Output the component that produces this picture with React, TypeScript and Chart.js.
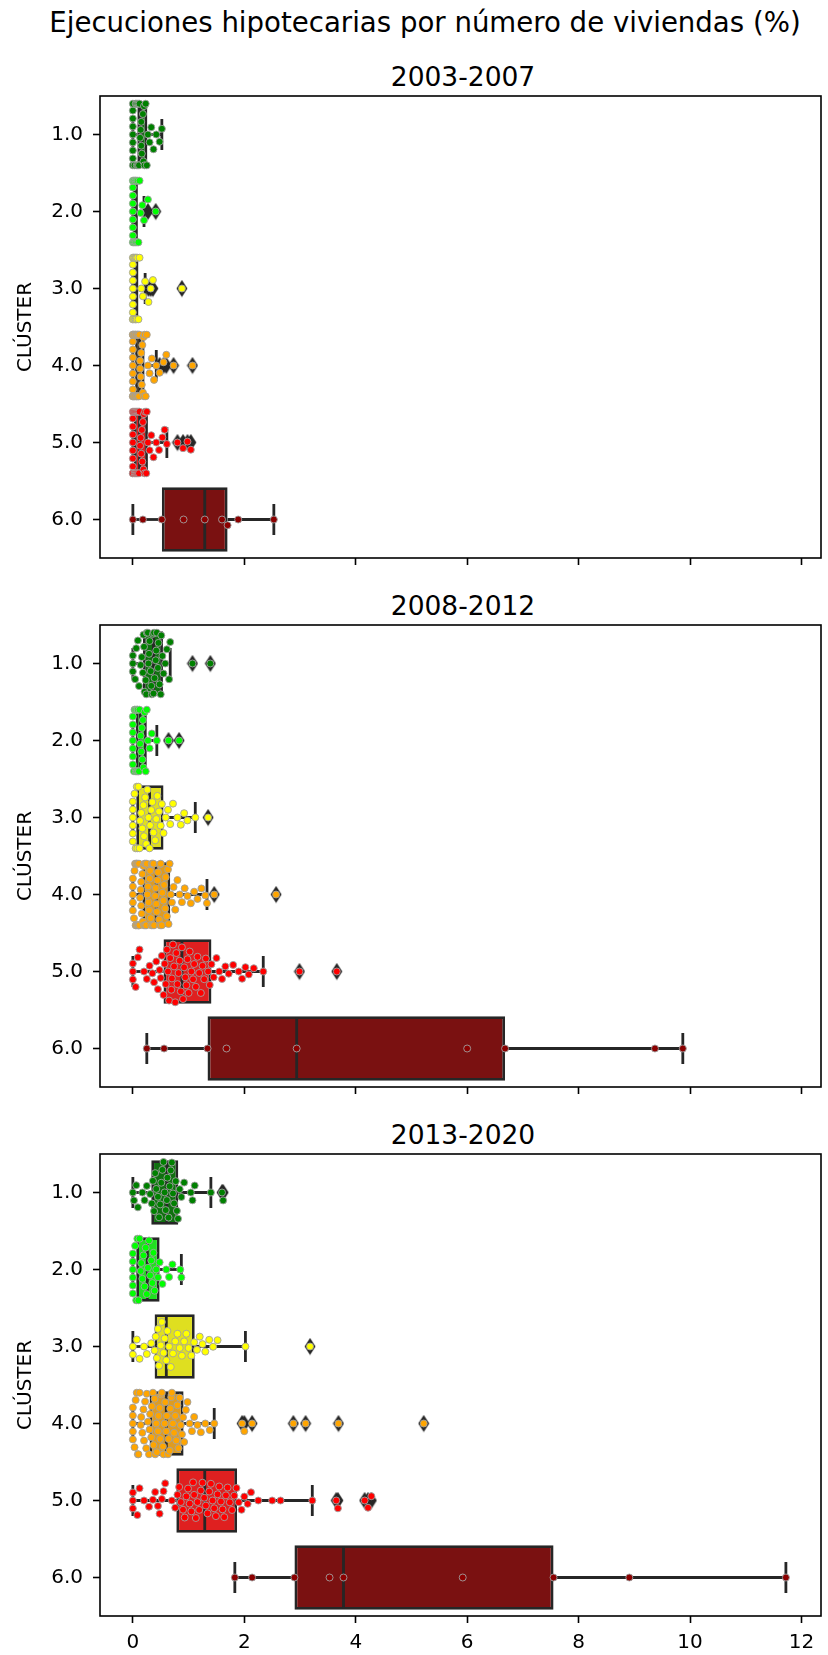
import React, { useEffect, useRef } from 'react';
import { Chart, registerables } from 'chart.js';

Chart.register(...registerables);

const FONT = "'DejaVu Sans', 'Noto Sans', sans-serif";
Chart.defaults.font.family = FONT;
Chart.defaults.color = '#000';

// ---------- text ----------
const SUPTITLE = 'Ejecuciones hipotecarias por número de viviendas (%)';
const PERIODS = ['2003-2007', '2008-2012', '2013-2020'];
const Y_LABEL = 'CLÚSTER';

// ---------- categories / ticks ----------
const CLUSTERS = [1, 2, 3, 4, 5, 6];
const CLUSTER_LABELS = ['1.0', '2.0', '3.0', '4.0', '5.0', '6.0'];
const X_TICKS = [0, 2, 4, 6, 8, 10, 12];
const X_TICK_LABELS = ['0', '2', '4', '6', '8', '10', '12'];
const X_MIN = -0.59;
const X_MAX = 12.35;
const Y_MIN = 0.5;
const Y_MAX = 6.5;

// ---------- colours ----------
const POINT_COLORS = ['#008000', '#00ff00', '#ffff00', '#ffa500', '#ff0000', '#8b0000'];
const BOX_COLORS = ['#107010', '#20df20', '#dfdf20', '#df9c20', '#df2020', '#7a1111'];
const EDGE = '#262626';
const POINT_EDGE = '#a0a0a0';

// ---------- box statistics (per period, per cluster) ----------
const Q1_2003 = [0.08, 0.0, 0.0, 0.04, 0.02, 0.52];
const MED_2003 = [0.15, 0.03, 0.04, 0.12, 0.12, 1.29];
const Q3_2003 = [0.26, 0.09, 0.1, 0.21, 0.27, 1.7];
const WLO_2003 = [0, 0, 0, 0, 0, 0];
const WHI_2003 = [0.52, 0.2, 0.22, 0.42, 0.61, 2.53];

const Q1_2008 = [0.18, 0.05, 0.06, 0.17, 0.55, 1.34];
const MED_2008 = [0.37, 0.13, 0.3, 0.42, 0.88, 2.94];
const Q3_2008 = [0.54, 0.25, 0.55, 0.67, 1.41, 6.68];
const WLO_2008 = [0, 0, 0, 0, 0, 0.25];
const WHI_2008 = [0.67, 0.43, 1.12, 1.33, 2.34, 9.87];

const Q1_2013 = [0.33, 0.06, 0.39, 0.3, 0.78, 2.9];
const MED_2013 = [0.61, 0.26, 0.6, 0.6, 1.29, 3.78];
const Q3_2013 = [0.815, 0.48, 1.11, 0.91, 1.87, 7.55];
const WLO_2013 = [0, 0, 0, 0, 0, 1.83];
const WHI_2013 = [1.4, 0.87, 2.02, 1.46, 3.22, 11.72];

// ---------- individual observations (swarm) ----------
const P2003_C1 = [0, 0, 0, 0, 0, 0, 0, 0, 0, 0.03, 0.05, 0.06, 0.07, 0.08, 0.09, 0.1, 0.11, 0.12, 0.13, 0.14, 0.15, 0.15, 0.16, 0.18, 0.19, 0.2, 0.21, 0.23, 0.25, 0.27, 0.3, 0.33, 0.37, 0.42, 0.48, 0.52];
const P2003_C2 = [0, 0, 0, 0, 0, 0, 0, 0, 0, 0.01, 0.02, 0.02, 0.03, 0.04, 0.05, 0.05, 0.06, 0.07, 0.08, 0.09, 0.1, 0.12, 0.14, 0.17, 0.2, 0.27, 0.41];
const P2003_C3 = [0, 0, 0, 0, 0, 0, 0, 0, 0, 0, 0.01, 0.02, 0.03, 0.04, 0.05, 0.05, 0.06, 0.07, 0.08, 0.1, 0.12, 0.15, 0.18, 0.22, 0.28, 0.32, 0.36, 0.88];
const P2003_C4 = [0, 0, 0, 0, 0, 0, 0, 0, 0, 0, 0, 0.01, 0.02, 0.02, 0.03, 0.04, 0.04, 0.05, 0.06, 0.06, 0.07, 0.08, 0.08, 0.09, 0.1, 0.1, 0.11, 0.12, 0.13, 0.13, 0.14, 0.15, 0.16, 0.17, 0.18, 0.19, 0.2, 0.21, 0.23, 0.25, 0.27, 0.3, 0.34, 0.38, 0.42, 0.48, 0.55, 0.6, 0.73, 1.07];
const P2003_C5 = [0, 0, 0, 0, 0, 0, 0, 0, 0, 0, 0.02, 0.03, 0.04, 0.05, 0.06, 0.07, 0.08, 0.09, 0.1, 0.11, 0.12, 0.13, 0.14, 0.15, 0.16, 0.17, 0.18, 0.19, 0.2, 0.21, 0.22, 0.24, 0.25, 0.27, 0.3, 0.33, 0.37, 0.42, 0.47, 0.53, 0.57, 0.61, 0.8, 0.9, 0.98, 1.04];
const P2003_C6 = [0, 0.18, 0.52, 0.91, 1.29, 1.6, 1.7, 1.89, 2.53];

const P2008_C1 = [0, 0, 0, 0.04, 0.06, 0.09, 0.11, 0.14, 0.16, 0.18, 0.19, 0.2, 0.21, 0.23, 0.24, 0.25, 0.27, 0.28, 0.29, 0.3, 0.32, 0.33, 0.34, 0.36, 0.37, 0.38, 0.39, 0.41, 0.42, 0.43, 0.45, 0.46, 0.48, 0.5, 0.51, 0.53, 0.55, 0.58, 0.61, 0.65, 0.67, 1.07, 1.39];
const P2008_C2 = [0, 0, 0, 0, 0, 0, 0, 0.02, 0.03, 0.04, 0.05, 0.06, 0.07, 0.08, 0.08, 0.09, 0.1, 0.11, 0.12, 0.13, 0.14, 0.15, 0.16, 0.17, 0.18, 0.19, 0.21, 0.23, 0.25, 0.27, 0.3, 0.34, 0.43, 0.64, 0.83];
const P2008_C3 = [0, 0, 0, 0, 0, 0, 0.03, 0.05, 0.07, 0.08, 0.1, 0.12, 0.13, 0.15, 0.17, 0.19, 0.2, 0.22, 0.24, 0.26, 0.28, 0.3, 0.31, 0.33, 0.35, 0.37, 0.4, 0.42, 0.44, 0.47, 0.5, 0.52, 0.55, 0.59, 0.63, 0.67, 0.72, 0.8, 0.86, 0.92, 0.98, 1.12, 1.35];
const P2008_C4 = [0, 0, 0, 0, 0, 0.02, 0.03, 0.04, 0.05, 0.06, 0.06, 0.07, 0.08, 0.09, 0.1, 0.1, 0.11, 0.12, 0.13, 0.14, 0.15, 0.15, 0.16, 0.17, 0.18, 0.19, 0.2, 0.21, 0.22, 0.23, 0.24, 0.25, 0.26, 0.27, 0.28, 0.29, 0.3, 0.31, 0.32, 0.33, 0.34, 0.35, 0.36, 0.37, 0.38, 0.4, 0.41, 0.42, 0.43, 0.44, 0.45, 0.47, 0.48, 0.49, 0.5, 0.52, 0.53, 0.55, 0.56, 0.58, 0.59, 0.61, 0.63, 0.64, 0.66, 0.68, 0.7, 0.73, 0.76, 0.8, 0.84, 0.88, 0.93, 0.98, 1.04, 1.1, 1.16, 1.23, 1.3, 1.33, 1.46, 2.57];
const P2008_C5 = [0, 0, 0, 0.05, 0.09, 0.12, 0.2, 0.25, 0.3, 0.35, 0.38, 0.42, 0.45, 0.48, 0.5, 0.52, 0.55, 0.57, 0.59, 0.61, 0.63, 0.65, 0.67, 0.69, 0.7, 0.72, 0.74, 0.76, 0.78, 0.8, 0.82, 0.84, 0.86, 0.88, 0.9, 0.92, 0.94, 0.96, 0.98, 1.0, 1.02, 1.05, 1.08, 1.1, 1.13, 1.16, 1.19, 1.22, 1.25, 1.28, 1.31, 1.35, 1.38, 1.41, 1.45, 1.5, 1.55, 1.6, 1.66, 1.72, 1.8, 1.9, 1.96, 2.02, 2.08, 2.17, 2.34, 2.99, 3.66];
const P2008_C6 = [0.25, 0.56, 1.34, 1.68, 2.94, 6.0, 6.68, 9.37, 9.87];

const P2013_C1 = [0, 0.02, 0.06, 0.09, 0.17, 0.21, 0.25, 0.31, 0.34, 0.36, 0.38, 0.4, 0.42, 0.45, 0.47, 0.49, 0.51, 0.53, 0.55, 0.57, 0.59, 0.61, 0.62, 0.64, 0.66, 0.68, 0.7, 0.72, 0.74, 0.77, 0.79, 0.81, 0.84, 0.87, 0.92, 1.04, 1.07, 1.11, 1.4, 1.6, 1.62];
const P2013_C2 = [0, 0, 0, 0, 0, 0, 0.04, 0.06, 0.08, 0.1, 0.12, 0.14, 0.15, 0.17, 0.19, 0.21, 0.23, 0.25, 0.27, 0.29, 0.31, 0.33, 0.35, 0.37, 0.39, 0.42, 0.45, 0.48, 0.53, 0.6, 0.65, 0.71, 0.85, 0.87];
const P2013_C3 = [0, 0, 0.07, 0.12, 0.2, 0.25, 0.33, 0.39, 0.41, 0.43, 0.45, 0.47, 0.5, 0.52, 0.55, 0.57, 0.6, 0.62, 0.65, 0.68, 0.72, 0.76, 0.8, 0.84, 0.88, 0.92, 0.96, 1.0, 1.05, 1.1, 1.15, 1.2, 1.25, 1.3, 1.37, 1.44, 1.52, 2.02, 3.18];
const P2013_C4 = [0, 0, 0, 0, 0, 0.03, 0.05, 0.07, 0.09, 0.1, 0.12, 0.14, 0.15, 0.17, 0.19, 0.2, 0.22, 0.24, 0.25, 0.27, 0.29, 0.3, 0.31, 0.33, 0.34, 0.36, 0.37, 0.39, 0.4, 0.42, 0.43, 0.45, 0.46, 0.48, 0.49, 0.51, 0.52, 0.54, 0.55, 0.57, 0.58, 0.6, 0.61, 0.63, 0.64, 0.66, 0.67, 0.69, 0.7, 0.72, 0.74, 0.76, 0.78, 0.8, 0.82, 0.84, 0.86, 0.88, 0.9, 0.92, 0.95, 0.98, 1.02, 1.06, 1.1, 1.16, 1.22, 1.3, 1.38, 1.46, 1.96, 2.0, 2.14, 2.88, 3.1, 3.69, 5.22];
const P2013_C5 = [0, 0, 0, 0.08, 0.12, 0.2, 0.29, 0.36, 0.4, 0.45, 0.48, 0.52, 0.55, 0.58, 0.7, 0.76, 0.8, 0.83, 0.86, 0.9, 0.93, 0.96, 0.99, 1.02, 1.05, 1.08, 1.1, 1.13, 1.16, 1.19, 1.22, 1.25, 1.28, 1.31, 1.34, 1.37, 1.4, 1.43, 1.46, 1.49, 1.52, 1.55, 1.58, 1.61, 1.64, 1.67, 1.7, 1.74, 1.78, 1.82, 1.86, 1.9, 1.95, 2.0, 2.06, 2.12, 2.25, 2.5, 2.65, 3.22, 3.65, 3.68, 4.16, 4.22, 4.28];
const P2013_C6 = [1.83, 2.14, 2.9, 3.53, 3.78, 5.92, 7.55, 8.91, 11.72];

const Q1 = [Q1_2003, Q1_2008, Q1_2013];
const MED = [MED_2003, MED_2008, MED_2013];
const Q3 = [Q3_2003, Q3_2008, Q3_2013];
const WLO = [WLO_2003, WLO_2008, WLO_2013];
const WHI = [WHI_2003, WHI_2008, WHI_2013];
const POINTS = [
  [P2003_C1, P2003_C2, P2003_C3, P2003_C4, P2003_C5, P2003_C6],
  [P2008_C1, P2008_C2, P2008_C3, P2008_C4, P2008_C5, P2008_C6],
  [P2013_C1, P2013_C2, P2013_C3, P2013_C4, P2013_C5, P2013_C6],
];

// ---------- layout ----------
const W = 828;
const PLOT_LEFT = 100;
const PLOT_RIGHT = 826;
const PLOT_H = 463;
const PAD_TOP = 6;
const AXES_TOPS = [95, 624, 1153];
const LW = 2.8;
const HALF_BOX = 0.4;
const CAP = 0.2;
const DOT_R = 3.5;
const SWARM_D = 8;

function beeswarm(values: number[], pxX: number, pxY: number, d: number, maxOff: number): number[] {
  const order = values.map((_, i) => i).sort((a, b) => values[a] - values[b]);
  const placed: { x: number; y: number }[] = [];
  const out: number[] = new Array(values.length).fill(0);
  for (const i of order) {
    const x = values[i] * pxX;
    const near = placed.filter((p) => Math.abs(p.x - x) < d);
    const cands = [0];
    for (const p of near) {
      const dy = Math.sqrt(Math.max(0, d * d - (p.x - x) * (p.x - x)));
      cands.push(p.y + dy, p.y - dy);
    }
    cands.sort((a, b) => Math.abs(a) - Math.abs(b));
    let chosen = 0;
    for (const c of cands) {
      if (near.every((p) => (p.x - x) ** 2 + (p.y - c) ** 2 >= d * d - 1e-6)) {
        chosen = c;
        break;
      }
    }
    placed.push({ x, y: chosen });
    out[i] = Math.max(-maxOff, Math.min(maxOff, chosen)) / pxY;
  }
  return out;
}

function makeDiamond(): HTMLCanvasElement {
  const c = document.createElement('canvas');
  c.width = 12;
  c.height = 18;
  const g = c.getContext('2d')!;
  g.fillStyle = EDGE;
  g.beginPath();
  g.moveTo(6, 0.5);
  g.lineTo(11.5, 9);
  g.lineTo(6, 17.5);
  g.lineTo(0.5, 9);
  g.closePath();
  g.fill();
  return c;
}

function seg(x1: number, y1: number, x2: number, y2: number, order: number) {
  return {
    type: 'line',
    data: [{ x: x1, y: y1 }, { x: x2, y: y2 }],
    borderColor: EDGE,
    borderWidth: LW,
    borderCapStyle: 'butt',
    pointRadius: 0,
    tension: 0,
    fill: false,
    order,
  };
}

const framePlugin = {
  id: 'frame',
  afterDraw(chart: any) {
    const { ctx, chartArea } = chart;
    ctx.save();
    ctx.strokeStyle = '#000';
    ctx.lineWidth = 1.6;
    ctx.strokeRect(chartArea.left, chartArea.top, chartArea.right - chartArea.left, chartArea.bottom - chartArea.top);
    ctx.restore();
  },
};

function buildConfig(p: number, showX: boolean, xAxisH: number) {
  const pxX = (PLOT_RIGHT - PLOT_LEFT) / (X_MAX - X_MIN);
  const pxY = PLOT_H / (Y_MAX - Y_MIN);
  const diamond = makeDiamond();
  const q1 = Q1[p], med = MED[p], q3 = Q3[p], wlo = WLO[p], whi = WHI[p], pts = POINTS[p];
  const ds: any[] = [];
  ds.push({
    type: 'bar',
    indexAxis: 'y',
    data: CLUSTERS.map((c, i) => ({ x: [q1[i], q3[i]], y: c })),
    backgroundColor: BOX_COLORS,
    borderColor: EDGE,
    borderWidth: LW,
    borderSkipped: false,
    barPercentage: 0.836,
    categoryPercentage: 1,
    grouped: false,
    order: 10,
  });
  CLUSTERS.forEach((c, i) => {
    ds.push(seg(wlo[i], c, q1[i], c, 8));
    ds.push(seg(q3[i], c, whi[i], c, 8));
    ds.push(seg(wlo[i], c - CAP, wlo[i], c + CAP, 7));
    ds.push(seg(whi[i], c - CAP, whi[i], c + CAP, 7));
    ds.push(seg(med[i], c - HALF_BOX, med[i], c + HALF_BOX, 6));
    const out = pts[i].filter((v) => v < wlo[i] - 1e-9 || v > whi[i] + 1e-9);
    if (out.length) {
      ds.push({
        type: 'scatter',
        data: out.map((v) => ({ x: v, y: c })),
        pointStyle: diamond,
        pointRadius: 6,
        order: 3,
      });
    }
    const offs = beeswarm(pts[i], pxX, pxY, SWARM_D, HALF_BOX * pxY);
    ds.push({
      type: 'scatter',
      data: pts[i].map((v, k) => ({ x: v, y: c + offs[k] })),
      backgroundColor: POINT_COLORS[i],
      borderColor: POINT_EDGE,
      borderWidth: 0.9,
      pointRadius: DOT_R,
      order: 1,
    });
  });

  const gridOpts = {
    display: true,
    offset: false,
    drawOnChartArea: false,
    drawTicks: true,
    tickLength: 7,
    tickWidth: 1.6,
    tickColor: '#000',
  };

  return {
    type: 'scatter',
    data: { datasets: ds },
    options: {
      responsive: false,
      animation: false,
      devicePixelRatio: 1,
      events: [],
      layout: { padding: { top: PAD_TOP, right: W - PLOT_RIGHT, left: 0, bottom: 0 } },
      plugins: { legend: { display: false }, tooltip: { enabled: false }, title: { display: false } },
      scales: {
        x: {
          type: 'linear',
          min: X_MIN,
          max: X_MAX,
          offset: false,
          afterBuildTicks: (s: any) => {
            s.ticks = X_TICKS.map((v) => ({ value: v }));
          },
          ticks: {
            display: showX,
            autoSkip: false,
            maxRotation: 0,
            padding: 8,
            color: '#000',
            font: { size: 20, family: FONT },
            callback: (_v: any, idx: number) => X_TICK_LABELS[idx],
          },
          grid: gridOpts,
          border: { display: false },
          afterFit: (s: any) => {
            s.height = xAxisH;
            s.paddingLeft = 0;
            s.paddingRight = 0;
          },
        },
        y: {
          type: 'linear',
          min: Y_MIN,
          max: Y_MAX,
          reverse: true,
          offset: false,
          afterBuildTicks: (s: any) => {
            s.ticks = CLUSTERS.map((v) => ({ value: v }));
          },
          ticks: {
            autoSkip: false,
            padding: 10,
            color: '#000',
            font: { size: 20, family: FONT },
            callback: (_v: any, idx: number) => CLUSTER_LABELS[idx],
          },
          grid: gridOpts,
          border: { display: false },
          title: {
            display: true,
            text: Y_LABEL,
            color: '#000',
            font: { size: 20, family: FONT },
            padding: { top: 14, bottom: 0 },
          },
          afterFit: (s: any) => {
            s.width = PLOT_LEFT;
            s.paddingTop = 0;
            s.paddingBottom = 0;
          },
        },
      },
    },
    plugins: [framePlugin],
  };
}

function Panel({ index }: { index: number }) {
  const ref = useRef<HTMLCanvasElement | null>(null);
  const last = index === PERIODS.length - 1;
  const xAxisH = last ? 39 : 9;
  const h = PAD_TOP + PLOT_H + xAxisH;
  useEffect(() => {
    if (!ref.current) return;
    const chart = new Chart(ref.current, buildConfig(index, last, xAxisH) as any);
    return () => chart.destroy();
  }, [index]);
  return (
    <canvas
      ref={ref}
      width={W}
      height={h}
      style={{ position: 'absolute', left: 0, top: AXES_TOPS[index] - PAD_TOP, width: W, height: h, display: 'block' }}
    />
  );
}

export default function App() {
  return (
    <div style={{ position: 'absolute', left: 0, top: 0, width: W, height: 1655, background: '#fff', fontFamily: FONT, color: '#000' }}>
      <div style={{ position: 'absolute', left: 25, top: 7, width: 800, textAlign: 'center', fontSize: 27.6, lineHeight: '32px', whiteSpace: 'nowrap' }}>
        {SUPTITLE}
      </div>
      {PERIODS.map((t, i) => (
        <div
          key={t}
          style={{ position: 'absolute', left: PLOT_LEFT, top: AXES_TOPS[i] - 33, width: PLOT_RIGHT - PLOT_LEFT, textAlign: 'center', fontSize: 26.5, lineHeight: '30px', whiteSpace: 'nowrap' }}
        >
          {t}
        </div>
      ))}
      {PERIODS.map((t, i) => (
        <Panel key={'p' + t} index={i} />
      ))}
    </div>
  );
}
